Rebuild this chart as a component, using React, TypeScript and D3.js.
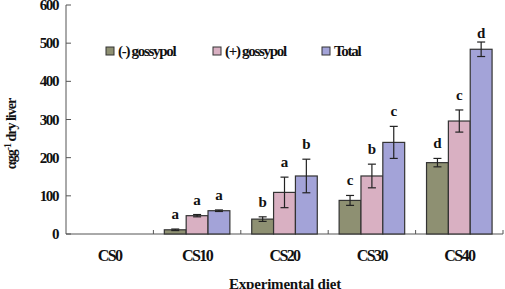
import React from "react";
import * as d3 from "d3";

const diets = ["CS0", "CS10", "CS20", "CS30", "CS40"];
const seriesNames = ["(-) gossypol", "(+) gossypol", "Total"];
const seriesColors = ["#8e9072", "#d9b0c2", "#a3a3d8"];

const minusGossypol = [0, 11, 39, 88, 187];
const plusGossypol = [0, 48, 109, 152, 296];
const totalGossypol = [0, 61, 152, 240, 484];

const minusErr = [0, 2, 6, 13, 11];
const plusErr = [0, 3, 40, 31, 29];
const totalErr = [0, 2, 44, 42, 19];

const minusLetters = ["", "a", "b", "c", "d"];
const plusLetters = ["", "a", "a", "b", "c"];
const totalLetters = ["", "a", "b", "c", "d"];

const yTicks = [0, 100, 200, 300, 400, 500, 600];

const W = 505;
const H = 289;
const left = 66;
const right = 503;
const top = 5;
const bottom = 234;

const font = "'Liberation Serif', 'Times New Roman', serif";

export default function App() {
  const x = d3.scaleBand<string>().domain(diets).range([left, right]).paddingInner(0).paddingOuter(0);
  const inner = d3
    .scaleBand<number>()
    .domain([0, 1, 2])
    .range([0, x.bandwidth()])
    .paddingOuter(0.5)
    .paddingInner(0);
  const y = d3.scaleLinear().domain([0, 600]).range([bottom, top]);

  const values = [minusGossypol, plusGossypol, totalGossypol];
  const errs = [minusErr, plusErr, totalErr];
  const letters = [minusLetters, plusLetters, totalLetters];

  const boundaries = diets.map((d) => (x(d) as number) + x.bandwidth());

  return (
    <svg
      width={W}
      height={H}
      style={{ position: "absolute", left: 0, top: 0, background: "#fff" }}
      fontFamily={font}
    >
      {/* axes */}
      <line x1={left} x2={left} y1={top} y2={bottom} stroke="#555" strokeWidth={1} />
      <line x1={left} x2={right} y1={bottom} y2={bottom} stroke="#555" strokeWidth={1} />
      {yTicks.map((t) => (
        <g key={t}>
          <line x1={left} x2={left + 5} y1={y(t)} y2={y(t)} stroke="#555" />
          <text
            x={58}
            y={y(t) + 5}
            textAnchor="end"
            fontSize={15}
            fontWeight="bold"
            letterSpacing={-1.4}
            fill="#111"
          >
            {t}
          </text>
        </g>
      ))}
      {boundaries.map((bx, i) => (
        <line key={i} x1={bx} x2={bx} y1={bottom} y2={bottom - 4} stroke="#555" />
      ))}

      {/* bars */}
      {diets.map((d, gi) => (
        <g key={d}>
          {values.map((vals, si) => {
            const bx = (x(d) as number) + (inner(si) as number);
            const bw = inner.bandwidth();
            const v = vals[gi];
            const e = errs[si][gi];
            const cx = bx + bw / 2;
            const errTop = y(v + e);
            return (
              <g key={si}>
                {v > 0 ? (
                  <rect
                    x={bx}
                    y={y(v)}
                    width={bw}
                    height={bottom - y(v)}
                    fill={seriesColors[si]}
                    stroke="#333"
                    strokeWidth={1.2}
                  />
                ) : (
                  <line x1={bx + 4} x2={bx + bw - 4} y1={bottom} y2={bottom} stroke="#aaa" strokeWidth={1.5} />
                )}
                {v > 0 && (
                  <g stroke="#222" strokeWidth={1.2}>
                    <line x1={cx} x2={cx} y1={y(v + e)} y2={y(v - e)} />
                    <line x1={cx - 4} x2={cx + 4} y1={y(v + e)} y2={y(v + e)} />
                    <line x1={cx - 4} x2={cx + 4} y1={y(v - e)} y2={y(v - e)} />
                  </g>
                )}
                {letters[si][gi] && (
                  <text
                    x={cx}
                    y={Math.max(errTop - 10, 38)}
                    textAnchor="middle"
                    fontSize={15}
                    fontWeight="bold"
                    fill="#111"
                  >
                    {letters[si][gi]}
                  </text>
                )}
              </g>
            );
          })}
          <text
            x={(x(d) as number) + x.bandwidth() / 2}
            y={261}
            textAnchor="middle"
            fontSize={16}
            fontWeight="bold"
            letterSpacing={-1.6}
            fill="#111"
          >
            {d}
          </text>
        </g>
      ))}

      {/* legend */}
      {seriesNames.map((name, i) => {
        const lx = [106, 213, 322][i];
        return (
          <g key={name}>
            <rect x={lx} y={47} width={8} height={8} fill={seriesColors[i]} stroke="#333" strokeWidth={1} />
            <text x={lx + 12} y={56} fontSize={15} fontWeight="bold" letterSpacing={-1.3} fill="#111">
              {name}
            </text>
          </g>
        );
      })}

      {/* axis titles */}
      <text
        x={285}
        y={289}
        textAnchor="middle"
        fontSize={15}
        fontWeight="bold"
        letterSpacing={-0.2}
        fill="#111"
      >
        Experimental diet
      </text>
      <text
        transform={`translate(16, 134) rotate(-90)`}
        textAnchor="middle"
        fontSize={14}
        fontWeight="bold"
        letterSpacing={-1}
        fill="#111"
      >
        αgg
        <tspan dy={-5} fontSize={10}>-1</tspan>
        <tspan dy={5}> dry liver</tspan>
      </text>
    </svg>
  );
}
